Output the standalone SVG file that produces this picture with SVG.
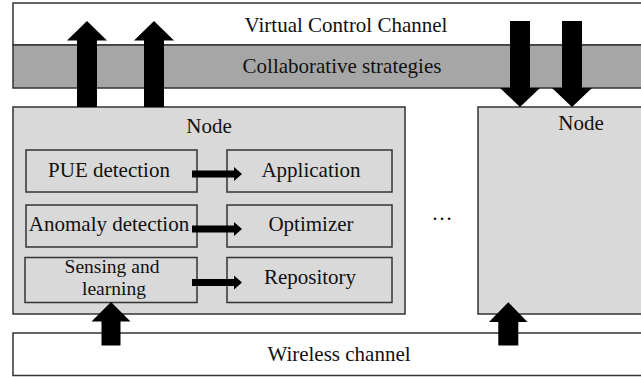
<svg xmlns="http://www.w3.org/2000/svg" width="641" height="377" viewBox="0 0 641 377">
  <style>
    .box { stroke: #333; stroke-width: 1.5; }
    .white { fill: #ffffff; }
    .band { fill: #a6a6a6; }
    .node { fill: #d9d9d9; }
    .lbl { font-size: 21px; fill: #111; text-anchor: middle; }
    .tight { font-size: 19.5px; }
    .arrow { fill: #000; }
  </style>

  <rect width="641" height="377" fill="#ffffff"/>

  <g font-family="Liberation Serif, DejaVu Serif, serif">
  <!-- Control channel with its collaborative-strategy band -->
  <g id="control-channel">
    <rect class="box white" x="13" y="3" width="640" height="42"/>
    <text class="lbl" x="346" y="32">Virtual Control Channel</text>
  </g>
  <g id="collaborative-strategies">
    <rect class="box band" x="13" y="45" width="640" height="43"/>
    <text class="lbl" x="342" y="73">Collaborative strategies</text>
  </g>

  <!-- Left node with its internal modules -->
  <g id="node-left">
    <rect class="box node" x="13" y="107" width="392" height="207"/>
    <text class="lbl" x="209" y="133">Node</text>
  </g>
  <g id="pue-detection">
    <rect class="box node" x="26" y="150" width="171" height="42"/>
    <text class="lbl" x="109" y="177">PUE detection</text>
  </g>
  <g id="application">
    <rect class="box node" x="227" y="150" width="165" height="42"/>
    <text class="lbl" x="311" y="177">Application</text>
  </g>
  <g id="anomaly-detection">
    <rect class="box node" x="26" y="205" width="171" height="42"/>
    <text class="lbl" x="109" y="231">Anomaly detection</text>
  </g>
  <g id="optimizer">
    <rect class="box node" x="227" y="205" width="165" height="42"/>
    <text class="lbl" x="311" y="231">Optimizer</text>
  </g>
  <g id="sensing-learning">
    <rect class="box node" x="25" y="257.5" width="172" height="45"/>
    <text class="lbl tight" x="112" y="273">Sensing and</text>
    <text class="lbl tight" x="114" y="295">learning</text>
  </g>
  <g id="repository">
    <rect class="box node" x="227" y="257.5" width="165" height="45"/>
    <text class="lbl" x="310" y="284">Repository</text>
  </g>

  <!-- Right node (continues past the edge) -->
  <g id="node-right">
    <rect class="box node" x="478" y="107" width="175" height="207"/>
    <text class="lbl" x="581" y="130">Node</text>
  </g>

  <g id="ellipsis">
    <text class="lbl" x="442" y="220" font-size="27">…</text>
  </g>

  <!-- Wireless channel -->
  <g id="wireless-channel">
    <rect class="box white" x="13" y="333" width="640" height="42.5"/>
    <text class="lbl" x="339" y="361">Wireless channel</text>
  </g>
  </g>

  <!-- Connectors -->
  <g id="connectors">
    <!-- left node up to control channel -->
    <polygon class="arrow" points="77,107 77,40.5 67,40.5 87,21 107,40.5 97,40.5 97,107"/>
    <polygon class="arrow" points="144,107 144,40.5 134,40.5 154,21 174,40.5 164,40.5 164,107"/>
    <!-- control channel down to right node -->
    <polygon class="arrow" points="510,21 530,21 530,88 540,88 520,107 500,88 510,88"/>
    <polygon class="arrow" points="562,21 582,21 582,88 592,88 572,107 552,88 562,88"/>
    <!-- wireless channel up into the nodes -->
    <polygon class="arrow" points="101.5,345.5 101.5,321.5 91.5,321.5 111,302 130.5,321.5 120.5,321.5 120.5,345.5"/>
    <polygon class="arrow" points="498.3,345.5 498.3,322 489,322 508.3,302.3 527.5,322 518.3,322 518.3,345.5"/>
    <!-- module to module -->
    <polygon class="arrow" points="192,170.5 234,170.5 234,167 242,174 234,181 234,177.5 192,177.5"/>
    <polygon class="arrow" points="192,225.5 234,225.5 234,222 242,229 234,236 234,232.5 192,232.5"/>
    <polygon class="arrow" points="192,279 234,279 234,275.5 242,282.5 234,289.5 234,286 192,286"/>
  </g>
</svg>
